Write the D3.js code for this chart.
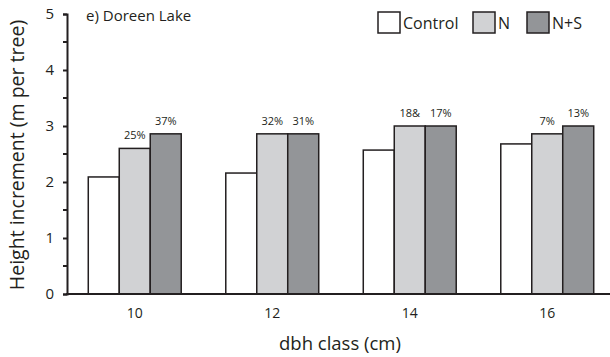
<!DOCTYPE html>
<html>
<head>
<meta charset="utf-8">
<script src="https://cdn.jsdelivr.net/npm/d3@7"></script>
<style>
  body { margin: 0; background: #fff; }
  text { font-family: "Open Sans", "Noto Sans", sans-serif; fill: #231f20; }
</style>
</head>
<body>
<div id="chart"></div>
<script>
// dbh classes and treatments
const classes = ['10', '12', '14', '16'];
const treatments = ['Control', 'N', 'N+S'];

// height increment (m per tree)
const control = [2.09, 2.16, 2.57, 2.68];
const nOnly = [2.60, 2.86, 3.00, 2.86];
const nPlusS = [2.86, 2.86, 3.00, 3.00];

// percent labels over N and N+S bars
const nLabels = ['25%', '32%', '18&', '7%'];
const nsLabels = ['37%', '31%', '17%', '13%'];

const yTicks = [0, 1, 2, 3, 4, 5];
const yMinor = [0.5, 1.5, 2.5, 3.5, 4.5];

const colors = { 'Control': '#ffffff', 'N': '#d1d2d4', 'N+S': '#939598' };

const width = 610;
const height = 357;

const svg = d3.select('#chart').append('svg')
  .attr('width', width)
  .attr('height', height);

const x = d3.scaleBand()
  .domain(classes)
  .range([66, 616])
  .paddingInner(0.324)
  .paddingOuter(0.162);

const xs = d3.scaleBand()
  .domain(treatments)
  .range([0, x.bandwidth()]);

const y = d3.scaleLinear()
  .domain([0, 5])
  .range([294, 14]);

const rows = classes.map((c, i) => ({
  cls: c,
  vals: [
    { t: 'Control', v: control[i] },
    { t: 'N', v: nOnly[i], label: nLabels[i] },
    { t: 'N+S', v: nPlusS[i], label: nsLabels[i] }
  ]
}));

const group = svg.append('g')
  .selectAll('g')
  .data(rows)
  .enter().append('g')
  .attr('transform', d => `translate(${x(d.cls)},0)`);

group.selectAll('rect')
  .data(d => d.vals)
  .enter().append('rect')
  .attr('x', d => xs(d.t))
  .attr('y', d => y(d.v))
  .attr('width', xs.bandwidth())
  .attr('height', d => y(0) - y(d.v))
  .attr('fill', d => colors[d.t])
  .attr('stroke', '#231f20')
  .attr('stroke-width', 1.5);

group.selectAll('text.pct')
  .data(d => d.vals.filter(v => v.label))
  .enter().append('text')
  .attr('class', 'pct')
  .attr('x', d => xs(d.t) + xs.bandwidth() / 2)
  .attr('y', d => y(d.v) - 9)
  .attr('text-anchor', 'middle')
  .style('font-size', '11px')
  .text(d => d.label);

// y axis
const yAxis = svg.append('g')
  .attr('transform', 'translate(67,0)')
  .call(d3.axisLeft(y).tickValues(yTicks).tickFormat(d3.format('d')).tickSize(4).tickPadding(9));
yAxis.select('.domain').attr('stroke', '#231f20').attr('stroke-width', 2);
yAxis.selectAll('.tick line').attr('stroke', '#231f20').attr('stroke-width', 2);
yAxis.selectAll('.tick text').style('font-size', '15px').attr('fill', '#231f20');

svg.append('g')
  .selectAll('line')
  .data(yMinor)
  .enter().append('line')
  .attr('x1', 63)
  .attr('x2', 67)
  .attr('y1', d => y(d))
  .attr('y2', d => y(d))
  .attr('stroke', '#231f20')
  .attr('stroke-width', 2);

// x axis
svg.append('line')
  .attr('x1', 66)
  .attr('x2', 610)
  .attr('y1', y(0))
  .attr('y2', y(0))
  .attr('stroke', '#231f20')
  .attr('stroke-width', 2);

svg.append('g')
  .selectAll('text')
  .data(classes)
  .enter().append('text')
  .attr('x', d => x(d) + x.bandwidth() / 2)
  .attr('y', 318)
  .attr('text-anchor', 'middle')
  .style('font-size', '14px')
  .text(d => d);

// axis titles
svg.append('text')
  .attr('x', 340)
  .attr('y', 350)
  .attr('text-anchor', 'middle')
  .style('font-size', '18.5px')
  .text('dbh class (cm)');

svg.append('text')
  .attr('transform', 'translate(24,155) rotate(-90)')
  .attr('text-anchor', 'middle')
  .style('font-size', '19.5px')
  .text('Height increment (m per tree)');

svg.append('text')
  .attr('x', 86)
  .attr('y', 21)
  .style('font-size', '15px')
  .text('e) Doreen Lake');

// legend
const legendX = [378, 473, 527];
const legend = svg.append('g')
  .selectAll('g')
  .data(treatments)
  .enter().append('g')
  .attr('transform', (d, i) => `translate(${legendX[i]},12)`);

legend.append('rect')
  .attr('width', 22)
  .attr('height', 21)
  .attr('fill', d => colors[d])
  .attr('stroke', '#231f20')
  .attr('stroke-width', 1.5);

legend.append('text')
  .attr('x', 25)
  .attr('y', 17)
  .style('font-size', '16px')
  .text(d => d);
</script>
</body>
</html>
